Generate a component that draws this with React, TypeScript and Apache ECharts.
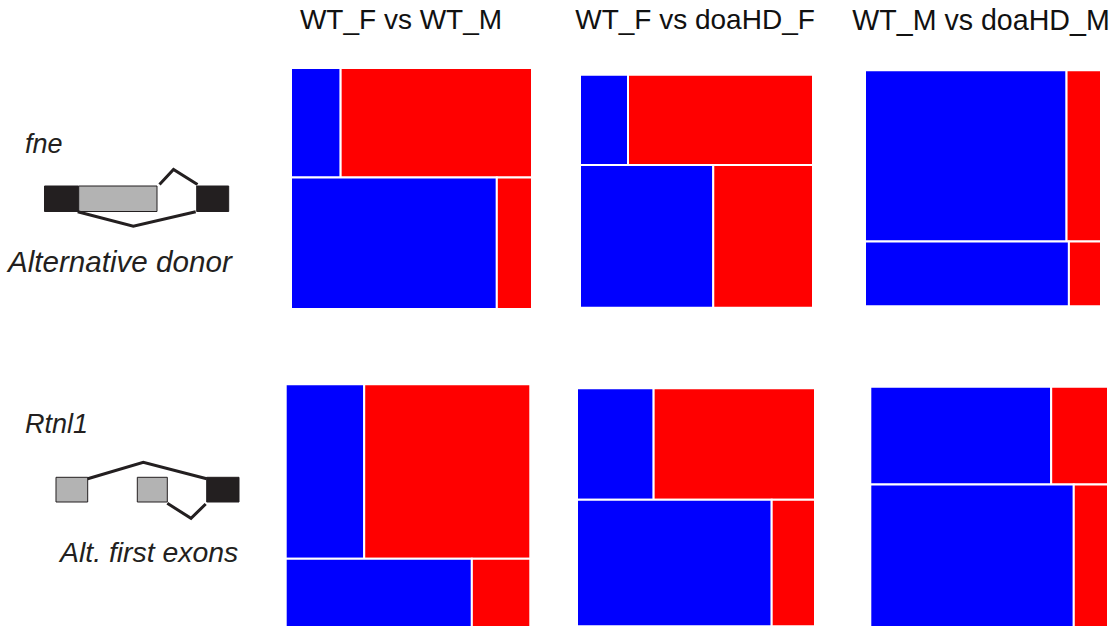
import React, { useEffect, useRef } from "react";
import * as echarts from "echarts";

// Comparisons (columns) and genes (rows)
const comparisons = ["WT_F vs WT_M", "WT_F vs doaHD_F", "WT_M vs doaHD_M"];
const genes = ["fne", "Rtnl1"];
const eventTypes = ["Alternative donor", "Alt. first exons"];

// Mosaic proportions, one value per comparison
// share of the top row in the panel height
const fneTopRowShare = [0.454, 0.388, 0.725];
const rtnl1TopRowShare = [0.719, 0.468, 0.407];
// blue share within the top row
const fneTopBlue = [0.206, 0.206, 0.854];
const rtnl1TopBlue = [0.321, 0.322, 0.761];
// blue share within the bottom row
const fneBottomBlue = [0.854, 0.572, 0.864];
const rtnl1BottomBlue = [0.761, 0.818, 0.856];

const BLUE = "#0000ff";
const RED = "#ff0000";

// panel boxes (layout only)
const panelBoxes = [
  [291, 68, 241, 241],
  [580, 74.7, 233, 233],
  [865, 70.3, 236, 236],
  [285.7, 384.3, 244.6, 244],
  [577, 388.3, 238, 238],
  [870.3, 386.7, 237.7, 242],
];

export default function App() {
  const ref = useRef<HTMLDivElement>(null);
  useEffect(() => {
    if (!ref.current) return;
    const chart = echarts.init(ref.current, null, { renderer: "svg" });
    const topShare = [fneTopRowShare, rtnl1TopRowShare];
    const topBlue = [fneTopBlue, rtnl1TopBlue];
    const botBlue = [fneBottomBlue, rtnl1BottomBlue];

    const grids: any[] = [];
    const xAxes: any[] = [];
    const yAxes: any[] = [];
    const series: any[] = [];
    let idx = 0;
    genes.forEach((g, gi) => {
      comparisons.forEach((c, ci) => {
        const [l, t, w, h] = panelBoxes[idx];
        grids.push({ left: l, top: t, width: w, height: h });
        xAxes.push({ type: "value", min: 0, max: 1, show: false, gridIndex: idx });
        yAxes.push({ type: "value", min: 0, max: 1, inverse: true, show: false, gridIndex: idx });
        const ts = topShare[gi][ci];
        const b1 = topBlue[gi][ci];
        const b2 = botBlue[gi][ci];
        const data = [
          [0, b1, 0, ts, 0],
          [b1, 1, 0, ts, 1],
          [0, b2, ts, 1, 0],
          [b2, 1, ts, 1, 1],
        ];
        series.push({
          type: "custom",
          name: g + " " + c,
          xAxisIndex: idx,
          yAxisIndex: idx,
          data,
          renderItem: (params: any, api: any) => {
            const p0 = api.coord([api.value(0), api.value(2)]);
            const p1 = api.coord([api.value(1), api.value(3)]);
            return {
              type: "rect",
              shape: { x: p0[0], y: p0[1], width: p1[0] - p0[0], height: p1[1] - p0[1] },
              style: { fill: api.value(4) === 0 ? BLUE : RED, stroke: "#ffffff", lineWidth: 2 },
            };
          },
        });
        idx++;
      });
    });

    const titleX = [401, 695, 981];
    const titleSize = [28, 28, 28.6];
    const graphic: any[] = [];
    comparisons.forEach((c, i) => {
      graphic.push({
        type: "text",
        x: titleX[i],
        y: 19.5,
        style: {
          text: c,
          font: titleSize[i] + 'px "Liberation Sans", Arial, sans-serif',
          fill: "#111",
          textAlign: "center",
          textVerticalAlign: "middle",
        },
      });
    });
    const labels = [
      [genes[0], 25, 143.5, 27],
      [eventTypes[0], 8, 261.4, 29.6],
      [genes[1], 25, 423.8, 27],
      [eventTypes[1], 60, 551.8, 28.4],
    ];
    labels.forEach(([t, x, y, s]) => {
      graphic.push({
        type: "text",
        x,
        y,
        style: {
          text: t,
          font: 'italic ' + s + 'px "Liberation Sans", Arial, sans-serif',
          fill: "#231f20",
          textAlign: "left",
          textVerticalAlign: "middle",
        },
      });
    });
    const dark = "#231f20";
    const grey = "#b3b3b3";
    // fne gene model
    graphic.push(
      { type: "rect", shape: { x: 44.5, y: 186, width: 34, height: 25.5 }, style: { fill: dark, stroke: dark, lineWidth: 1 } },
      { type: "rect", shape: { x: 78.7, y: 186, width: 78.3, height: 25.5 }, style: { fill: grey, stroke: dark, lineWidth: 1 } },
      { type: "rect", shape: { x: 196.7, y: 186, width: 32, height: 25.5 }, style: { fill: dark, stroke: dark, lineWidth: 1 } },
      { type: "polyline", shape: { points: [[159.5, 184.5], [173.5, 169.5], [197.5, 184.5]] }, style: { stroke: dark, lineWidth: 3, fill: null } },
      { type: "polyline", shape: { points: [[77.7, 211.7], [133.3, 226.2], [195.7, 211.7]] }, style: { stroke: dark, lineWidth: 3, fill: null } }
    );
    // Rtnl1 gene model
    graphic.push(
      { type: "rect", shape: { x: 56, y: 477.3, width: 31.7, height: 24.7 }, style: { fill: grey, stroke: dark, lineWidth: 1 } },
      { type: "rect", shape: { x: 137.3, y: 477.3, width: 30, height: 24.7 }, style: { fill: grey, stroke: dark, lineWidth: 1 } },
      { type: "rect", shape: { x: 206.7, y: 477.3, width: 32.3, height: 24.7 }, style: { fill: dark, stroke: dark, lineWidth: 1 } },
      { type: "polyline", shape: { points: [[87.7, 478.7], [143.3, 462.3], [206.7, 478.7]] }, style: { stroke: dark, lineWidth: 3, fill: null } },
      { type: "polyline", shape: { points: [[167.3, 503.3], [191, 518.3], [205.7, 504]] }, style: { stroke: dark, lineWidth: 3, fill: null } }
    );

    chart.setOption({
      animation: false,
      backgroundColor: "#ffffff",
      grid: grids,
      xAxis: xAxes,
      yAxis: yAxes,
      series,
      graphic,
    });
    return () => chart.dispose();
  }, []);
  return (
    <div
      ref={ref}
      style={{ position: "fixed", left: 0, top: 0, width: 1120, height: 627 }}
    />
  );
}
